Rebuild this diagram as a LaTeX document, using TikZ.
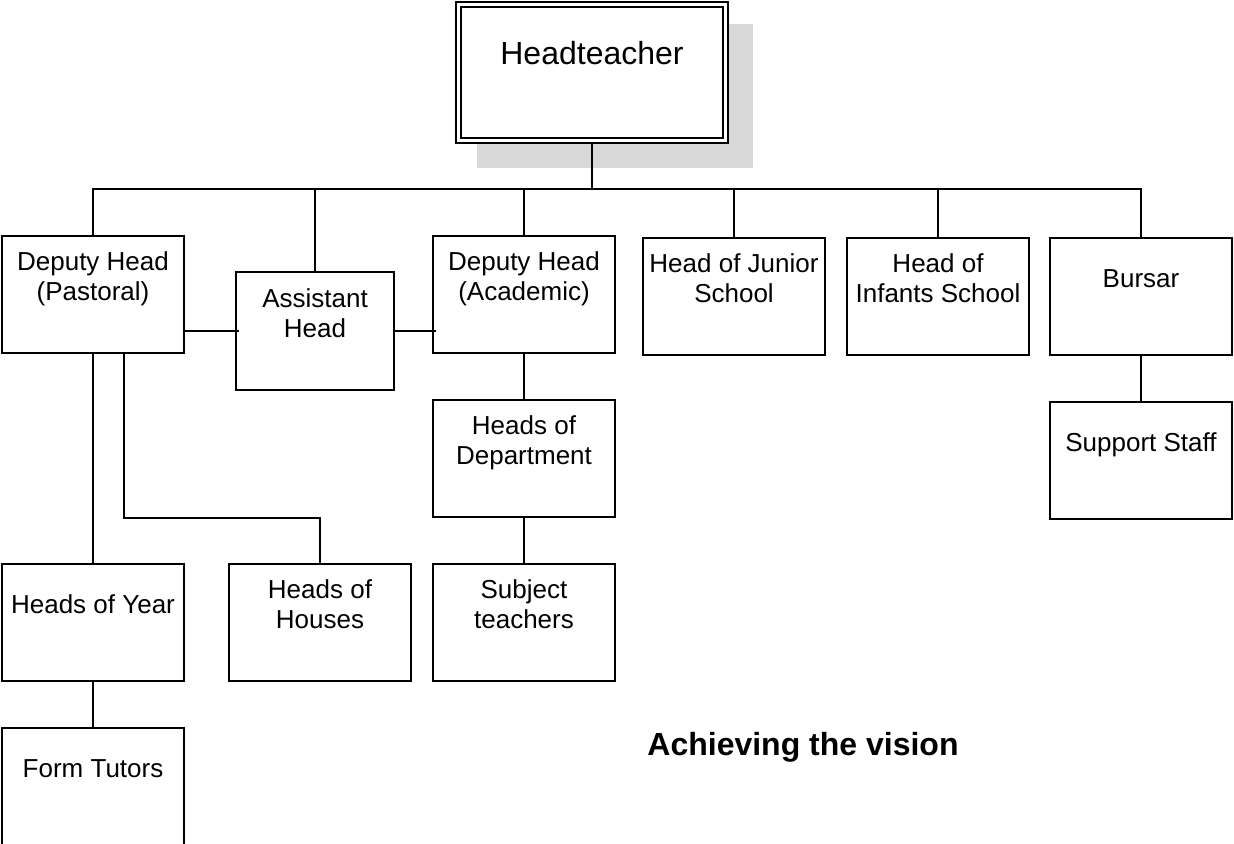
\documentclass[tikz,border=0pt]{standalone}
\usepackage{fontspec}
\setmainfont{Liberation Sans}
\usetikzlibrary{calc,backgrounds}
\definecolor{shadowgray}{RGB}{217,217,217}

\begin{document}
\begin{tikzpicture}[x=0.75pt, y=-0.75pt, line width=1.5pt,
  box/.style={draw, fill=white, align=center, inner sep=0pt,
    minimum width=136.5pt, minimum height=87.75pt,
    font=\fontsize{19.5}{22.5}\selectfont}]
  \useasboundingbox (0,0) rectangle (1234,843);
  % Schulleiter mit Schatten
  \node[box, double, double distance=1.6pt, minimum width=200.25pt, minimum height=102pt,
    font=\fontsize{24}{23}\selectfont] (head) at (592,72.5) {\strut Headteacher\\\strut};
  \begin{scope}[on background layer]
    \fill[shadowgray] ($(head.north west)+(19.5,20.5)$) rectangle ($(head.south east)+(26.5,26.5)$);
  \end{scope}
  % erste Ebene
  \node[box] (pastoral) at (93,294.5) {\strut Deputy Head\\\strut(Pastoral)\\\strut};
  \node[box, minimum width=118.5pt, minimum height=88.5pt] (assistant) at (315,331) {\strut Assistant\\\strut Head\\\strut};
  \node[box] (academic) at (524,294.5) {\strut Deputy Head\\\strut(Academic)\\\strut};
  \node[box] (junior) at (734,296.5) {\strut Head of Junior\\\strut School\\\strut};
  \node[box] (infants) at (938,296.5) {\strut Head of\\\strut Infants School\\\strut};
  \node[box] (bursar) at (1141,296.5) {\strut Bursar\\\strut};
  % zweite und dritte Ebene
  \node[box] (hod) at (524,458.5) {\strut Heads of\\\strut Department\\\strut};
  \node[box] (support) at (1141,460.5) {\strut Support Staff\\\strut};
  \node[box] (year) at (93,622.5) {\strut Heads of Year\\\strut};
  \node[box] (houses) at (320,622.5) {\strut Heads of\\\strut Houses\\\strut};
  \node[box] (subject) at (524,622.5) {\strut Subject\\\strut teachers\\\strut};
  \node[box] (tutors) at (93,786.5) {\strut Form Tutors\\\strut};
  % Verbindungen
  \coordinate (bus) at (592,189);
  \draw (head) -- (bus);
  \foreach \n in {pastoral,assistant,academic,junior,infants,bursar}
    \draw (\n.north) |- (bus);
  \draw (pastoral.east |- assistant.west) -- ([xshift=3pt]assistant.west);
  \draw (assistant.east) -- ($(assistant.east -| academic.west)+(4,0)$);
  \draw (pastoral) -- (year) -- (tutors);
  \draw (academic) -- (hod) -- (subject);
  \draw (bursar) -- (support);
  \coordinate (pastoral-r) at ([xshift=23.25pt]pastoral.south);
  \draw (pastoral-r) -- (pastoral-r |- hod.south) -| (houses.north);
  % Titel
  \node[anchor=base, font=\bfseries\fontsize{24}{28}\selectfont] (vision) at (803,755) {Achieving the vision};
\end{tikzpicture}
\end{document}
